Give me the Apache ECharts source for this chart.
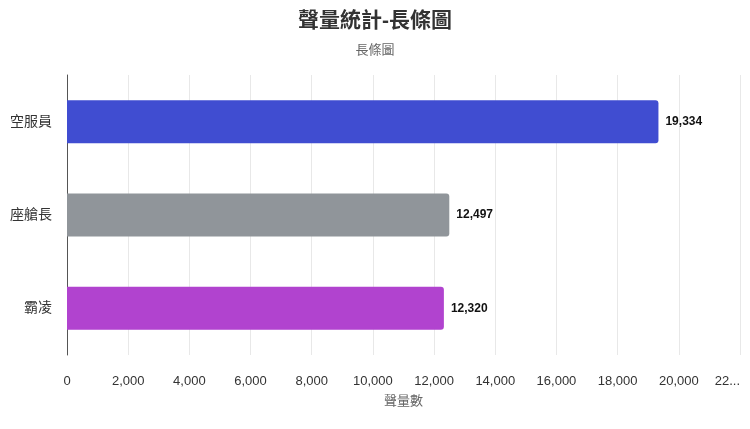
<!DOCTYPE html>
<html><head><meta charset="utf-8">
<script src="https://cdn.jsdelivr.net/npm/echarts@6/dist/echarts.min.js"></script>
<style>html,body{margin:0;padding:0;background:#fff}#c{width:750px;height:429px}</style>
</head><body><div id="c"></div>
<script>
const categories = ['空服員', '座艙長', '霸凌'];
const values = [19334, 12497, 12320];
const barColors = ['#404dd1', '#90959a', '#b143cf'];
const title = '聲量統計-長條圖';
const subtitle = '長條圖';
const xAxisName = '聲量數';

const FONT = "'Liberation Sans', Arial, 'Noto Sans CJK TC', sans-serif";
const chart = echarts.init(document.getElementById('c'));
chart.setOption({
  animation: false,
  textStyle: { fontFamily: FONT },
  title: {
    text: title, subtext: subtitle, left: 'center', top: 6, itemGap: 12,
    textStyle: { fontSize: 21, fontWeight: 'bold', color: '#333', fontFamily: FONT },
    subtextStyle: { fontSize: 13, color: '#666', fontFamily: FONT }
  },
  grid: { left: 67, right: 10, top: 75, bottom: 74, containLabel: false, outerBoundsMode: 'none' },
  xAxis: {
    type: 'value', min: 0, max: 22000, interval: 2000,
    name: xAxisName, nameLocation: 'middle', nameGap: 40,
    nameTextStyle: { fontSize: 13, color: '#666' },
    axisLine: { show: false }, axisTick: { show: false },
    axisLabel: {
      fontSize: 13, color: '#333', margin: 20, alignMaxLabel: 'right',
      formatter: v => v === 22000 ? '22...' : v.toLocaleString('en-US')
    },
    splitLine: { show: true, lineStyle: { color: '#e8e8e8', width: 1 } }
  },
  yAxis: {
    type: 'category', data: categories, inverse: true,
    axisLine: { show: true, lineStyle: { color: '#555', width: 1 } },
    axisTick: { show: false },
    axisLabel: { fontSize: 14, color: '#333', margin: 15 }
  },
  series: [{
    type: 'bar', barWidth: 43,
    data: values.map((v, i) => ({ value: v, itemStyle: { color: barColors[i] } })),
    itemStyle: { borderRadius: [0, 3, 3, 0] },
    label: {
      show: true, position: 'right', distance: 7,
      fontSize: 12, fontWeight: 'bold', color: '#111',
      formatter: p => p.value.toLocaleString('en-US')
    }
  }]
});
</script></body></html>
